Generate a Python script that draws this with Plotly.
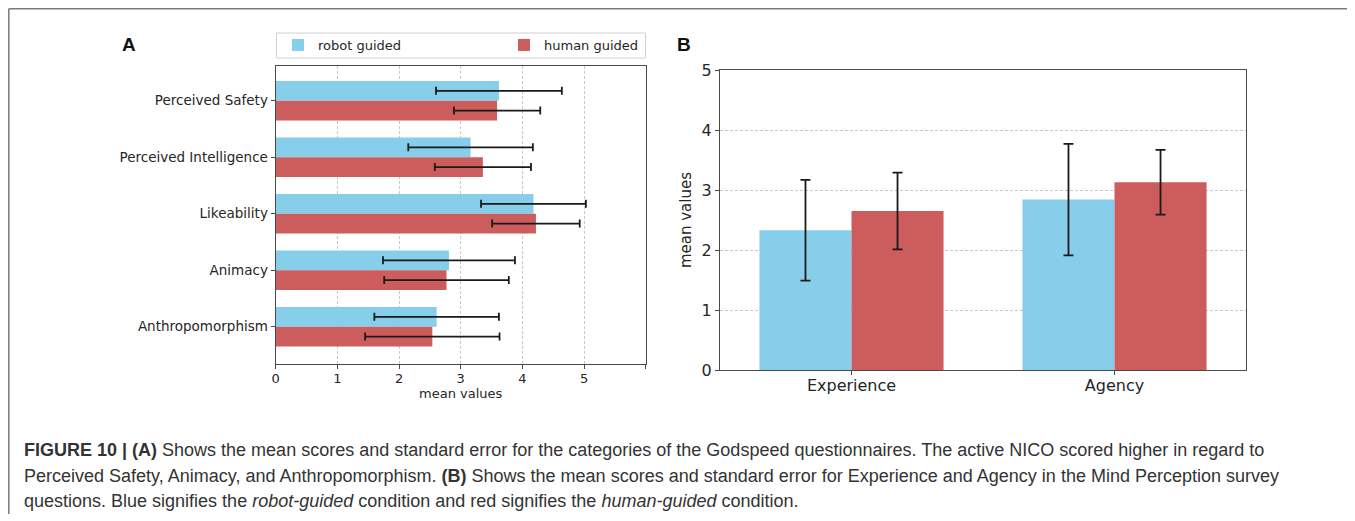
import plotly.graph_objects as go

# ---------------- data ----------------
godspeed_categories = ["Perceived Safety", "Perceived Intelligence", "Likeability", "Animacy", "Anthropomorphism"]
godspeed_robot_mean = [3.62, 3.16, 4.18, 2.81, 2.61]
godspeed_robot_err = [1.02, 1.01, 0.85, 1.07, 1.01]
godspeed_human_mean = [3.59, 3.36, 4.22, 2.77, 2.54]
godspeed_human_err = [0.70, 0.78, 0.71, 1.01, 1.09]

mind_categories = ["Experience", "Agency"]
mind_robot_mean = [2.33, 2.84]
mind_robot_err = [0.84, 0.93]
mind_human_mean = [2.65, 3.13]
mind_human_err = [0.64, 0.54]

series_names = ["robot guided", "human guided"]
panel_a_xticks = [0, 1, 2, 3, 4, 5, 6]
panel_a_xticktext = ["0", "1", "2", "3", "4", "5", ""]
panel_b_yticks = [0, 1, 2, 3, 4, 5]

# ---------------- style ----------------
W, H = 1355, 521
OFF = 8  # page body margin offset
BLUE = "#87CEEB"
RED = "#CD5C5C"
ERR = "#1a1a1a"
AXC = "#4a4a4a"
TXT = "#262626"
GRID = "#c8c8c8"
MPL_FONT = "DejaVu Sans"


def px(x):
    return (x - OFF) / W


def py(y):
    return 1 - (y - OFF) / H


fig = go.Figure()

# Panel A (horizontal grouped bars)
fig.add_trace(go.Bar(
    y=godspeed_categories, x=godspeed_robot_mean, orientation="h",
    name=series_names[0], marker=dict(color=BLUE, line=dict(width=0)),
    width=0.35, offset=-0.35,
    error_x=dict(type="data", array=godspeed_robot_err, color=ERR, thickness=1.8, width=4),
    xaxis="x", yaxis="y", showlegend=True,
))
fig.add_trace(go.Bar(
    y=godspeed_categories, x=godspeed_human_mean, orientation="h",
    name=series_names[1], marker=dict(color=RED, line=dict(width=0)),
    width=0.35, offset=0.0,
    error_x=dict(type="data", array=godspeed_human_err, color=ERR, thickness=1.8, width=4),
    xaxis="x", yaxis="y", showlegend=True,
))

# Panel B (vertical grouped bars)
fig.add_trace(go.Bar(
    x=mind_categories, y=mind_robot_mean,
    name=series_names[0], marker=dict(color=BLUE, line=dict(width=0)),
    width=0.35, offset=-0.35,
    error_y=dict(type="data", array=mind_robot_err, color=ERR, thickness=1.8, width=5),
    xaxis="x2", yaxis="y2", showlegend=False,
))
fig.add_trace(go.Bar(
    x=mind_categories, y=mind_human_mean,
    name=series_names[1], marker=dict(color=RED, line=dict(width=0)),
    width=0.35, offset=0.0,
    error_y=dict(type="data", array=mind_human_err, color=ERR, thickness=1.8, width=5),
    xaxis="x2", yaxis="y2", showlegend=False,
))

axis_common = dict(
    showline=True, mirror=True, linecolor=AXC, linewidth=1.2,
    ticks="outside", ticklen=4, tickcolor=AXC, tickwidth=1,
    zeroline=False, fixedrange=True, automargin=False,
)

fig.update_layout(
    template="none",
    width=W, height=H, autosize=False,
    margin=dict(l=0, r=0, t=0, b=0, pad=0),
    paper_bgcolor="white", plot_bgcolor="white",
    barmode="overlay",
    font=dict(family=MPL_FONT, color=TXT),
    xaxis=dict(
        domain=[px(275.7), px(645.7)], anchor="y",
        range=[0, 6], tickvals=panel_a_xticks, ticktext=panel_a_xticktext,
        showgrid=True, gridcolor=GRID, griddash="3px,2px", gridwidth=1,
        tickfont=dict(size=13, family=MPL_FONT, color=TXT), ticklabelstandoff=-2,
        title=dict(text="mean values", font=dict(size=13, family=MPL_FONT, color=TXT), standoff=4),
        **axis_common,
    ),
    yaxis=dict(
        domain=[py(364), py(66)], anchor="x",
        type="category", categoryorder="array", categoryarray=godspeed_categories,
        range=[4.66, -0.614], showgrid=False,
        tickfont=dict(size=13.5, family=MPL_FONT, color=TXT),
        **axis_common,
    ),
    xaxis2=dict(
        domain=[px(720), px(1246)], anchor="y2",
        type="category", categoryorder="array", categoryarray=mind_categories,
        range=[-0.5, 1.5], showgrid=False,
        tickfont=dict(size=16, family=MPL_FONT, color=TXT), ticklabelstandoff=-3,
        **axis_common,
    ),
    yaxis2=dict(
        domain=[py(370), py(70)], anchor="x2",
        range=[0, 5], tickvals=panel_b_yticks,
        showgrid=True, gridcolor=GRID, griddash="3px,2px", gridwidth=1,
        tickfont=dict(size=16, family=MPL_FONT, color=TXT),
        title=dict(text="mean values", font=dict(size=15, family=MPL_FONT, color=TXT), standoff=6),
        **axis_common,
    ),
    legend=dict(
        orientation="h", x=px(278), y=py(30), xanchor="left", yanchor="top",
        bgcolor="rgba(0,0,0,0)", borderwidth=0,
        font=dict(size=13, family=MPL_FONT, color=TXT),
        entrywidth=181, entrywidthmode="pixels", traceorder="normal",
    ),
    shapes=[
        # legend frame
        dict(type="rect", xref="paper", yref="paper", x0=px(276.5), x1=px(645.5), y0=py(58), y1=py(33),
             line=dict(color="#d0d0d0", width=1), fillcolor="rgba(0,0,0,0)", layer="below"),
        # outer figure frame (left and top edges)
        dict(type="line", xref="paper", yref="paper", x0=px(8.8), x1=px(8.8), y0=py(514), y1=py(8.8),
             line=dict(color="#7a7a7a", width=1.5)),
        dict(type="line", xref="paper", yref="paper", x0=px(8.8), x1=1, y0=py(8.8), y1=py(8.8),
             line=dict(color="#7a7a7a", width=1.5)),
    ],
)

CAP_FONT = "Liberation Sans"
cap_lines = [
    "<b>FIGURE 10 | (A)</b> Shows the mean scores and standard error for the categories of the Godspeed questionnaires. The active NICO scored higher in regard to",
    "Perceived Safety, Animacy, and Anthropomorphism. <b>(B)</b> Shows the mean scores and standard error for Experience and Agency in the Mind Perception survey",
    "questions. Blue signifies the <i>robot-guided</i> condition and red signifies the <i>human-guided</i> condition.",
]
cap_y = [450, 476, 501]
annotations = [
    dict(text="<b>A</b>", x=px(129), y=py(45), xref="paper", yref="paper", showarrow=False,
         font=dict(size=19, family="Liberation Sans", color="#111"), xanchor="center", yanchor="middle"),
    dict(text="<b>B</b>", x=px(684), y=py(45), xref="paper", yref="paper", showarrow=False,
         font=dict(size=19, family="Liberation Sans", color="#111"), xanchor="center", yanchor="middle"),
]
for t, yy in zip(cap_lines, cap_y):
    annotations.append(dict(text=t, x=px(22), y=py(yy), xref="paper", yref="paper", showarrow=False,
                            xanchor="left", yanchor="middle", align="left",
                            font=dict(size=18, family=CAP_FONT, color="#333")))
fig.update_layout(annotations=annotations)

fig.write_html("out.html")
